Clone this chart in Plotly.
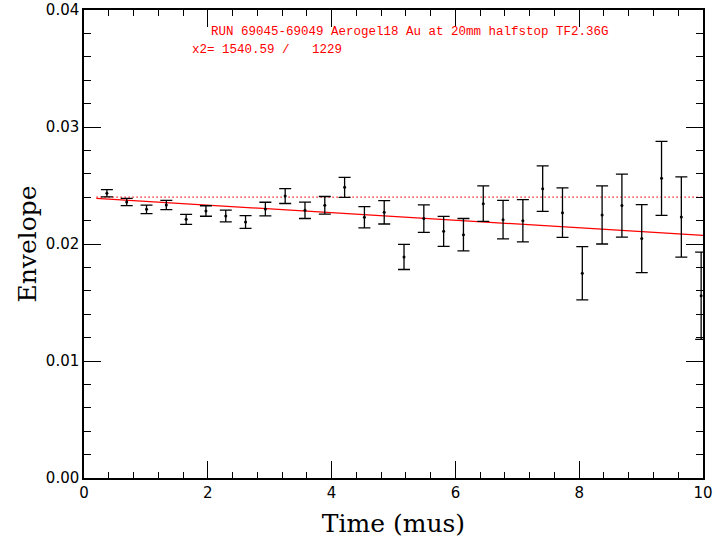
import plotly.graph_objects as go

# Data
time_mus = [0.37, 0.69, 1.01, 1.33, 1.65, 1.97, 2.29, 2.61, 2.93, 3.25,
            3.57, 3.89, 4.21, 4.53, 4.85, 5.17, 5.49, 5.81, 6.13, 6.45,
            6.77, 7.09, 7.41, 7.73, 8.05, 8.37, 8.69, 9.01, 9.33, 9.65, 9.97]
envelope = [0.02433, 0.02359, 0.02296, 0.02333, 0.02211, 0.02282, 0.02239, 0.02188, 0.02299, 0.02410,
            0.02288, 0.02331, 0.02484, 0.02228, 0.02271, 0.01889, 0.02217, 0.02108, 0.02080, 0.02345,
            0.02208, 0.02199, 0.02473, 0.02268, 0.01750, 0.02248, 0.02328, 0.02046, 0.02561, 0.02231, 0.01558]
envelope_err = [0.00031, 0.00031, 0.00036, 0.00040, 0.00043, 0.00045, 0.00050, 0.00054, 0.00058, 0.00064,
                0.00070, 0.00075, 0.00085, 0.00091, 0.00100, 0.00107, 0.00117, 0.00128, 0.00138, 0.00152,
                0.00165, 0.00180, 0.00195, 0.00212, 0.00228, 0.00248, 0.00269, 0.00290, 0.00316, 0.00343, 0.00373]

fit_x = [0.2, 10.0]
fit_y = [0.0239, 0.02074]
ref_x = [0.2, 10.0]
ref_y = [0.024, 0.024]

x_ticks = [0, 2, 4, 6, 8, 10]
y_ticks = [0.00, 0.01, 0.02, 0.03, 0.04]

title_line1 = "RUN 69045-69049 Aerogel18 Au at 20mm halfstop TF2.36G"
title_line2 = "x2= 1540.59 /   1229"

L, R, T, B = 84, 12, 10, 67
W, H = 715, 545
pw = W - L - R
ph = H - T - B

fig = go.Figure()

fig.add_trace(go.Scatter(
    x=ref_x, y=ref_y, mode="lines",
    line=dict(color="#ff2020", width=1.2, dash="1.5px,2.5px"),
    showlegend=False, hoverinfo="skip"))

fig.add_trace(go.Scatter(
    x=fit_x, y=fit_y, mode="lines",
    line=dict(color="#ff0000", width=1.2),
    showlegend=False))

fig.add_trace(go.Scatter(
    x=time_mus, y=envelope, mode="markers",
    marker=dict(color="black", size=3),
    error_y=dict(type="data", array=envelope_err, visible=True,
                 color="black", thickness=1.3, width=6),
    showlegend=False, cliponaxis=True))

axis_font = dict(family="DejaVu Sans", size=15, color="black")

fig.update_layout(
    width=W, height=H,
    margin=dict(l=L, r=R, t=T, b=B, autoexpand=False),
    paper_bgcolor="white", plot_bgcolor="white",
    xaxis=dict(
        range=[0, 10], tickvals=x_ticks, ticktext=[str(v) for v in x_ticks],
        ticks="inside", ticklen=17, tickwidth=1, tickcolor="black",
        showline=True, linecolor="black", linewidth=1.5, mirror="ticks",
        showgrid=False, zeroline=False, automargin=False,
        tickfont=axis_font,
        minor=dict(dtick=0.4, ticks="inside", ticklen=6, tickcolor="black", tickwidth=1, showgrid=False),
        title=dict(text="Time (mus)", font=dict(family="DejaVu Serif", size=25, color="black"), standoff=14),
    ),
    yaxis=dict(
        range=[0, 0.04], tickvals=y_ticks, ticktext=["%.2f" % v for v in y_ticks],
        ticks="inside", ticklen=17, tickwidth=1, tickcolor="black",
        showline=True, linecolor="black", linewidth=1.5, mirror="ticks",
        showgrid=False, zeroline=False, automargin=False,
        tickfont=axis_font,
        minor=dict(dtick=0.002, ticks="inside", ticklen=7, tickcolor="black", tickwidth=1, showgrid=False),
        title=dict(text="Envelope", font=dict(family="DejaVu Serif", size=25, color="black"), standoff=2),
    ),
)

ann_font = dict(family="Liberation Mono", size=12.5, color="#ff0000")
ann_pos = [(title_line1, 209, 32), (title_line2, 190, 50)]
fig.update_layout(annotations=[
    dict(text=t, x=(px - L) / pw, y=(H - B - py) / ph, xref="paper", yref="paper",
         xanchor="left", yanchor="middle", showarrow=False, font=ann_font)
    for t, px, py in ann_pos
])

fig.write_html("out.html", config={"responsive": False, "displayModeBar": False},
               post_script="document.body.style.margin='0';document.body.style.padding='0';")
